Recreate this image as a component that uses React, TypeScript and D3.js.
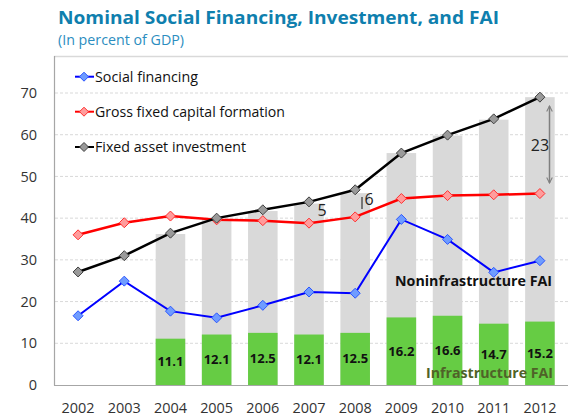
import React from "react";
import * as d3 from "d3";

const years = ["2002","2003","2004","2005","2006","2007","2008","2009","2010","2011","2012"];
const socialFinancing = [16.6, 24.9, 17.7, 16.1, 19.1, 22.3, 22.0, 39.7, 34.9, 27.0, 29.8];
const gfcf = [36.0, 38.9, 40.5, 39.6, 39.4, 38.8, 40.3, 44.7, 45.4, 45.6, 45.9];
const fai = [27.1, 31.0, 36.4, 40.0, 42.0, 43.9, 46.8, 55.6, 59.9, 63.8, 69.0];
const barYears = ["2004","2005","2006","2007","2008","2009","2010","2011","2012"];
const totalFai = [36.2, 39.8, 41.7, 43.5, 46.0, 55.6, 59.8, 63.6, 69.0];
const infraFai = [11.1, 12.1, 12.5, 12.1, 12.5, 16.2, 16.6, 14.7, 15.2];
const yTicks = [0, 10, 20, 30, 40, 50, 60, 70];

const series = [
  { name: "Social financing", values: socialFinancing, line: "#0000ff", fill: "#6f9cff", stroke: "#2a55ff", width: 2 },
  { name: "Gross fixed capital formation", values: gfcf, line: "#ff0000", fill: "#ff9c9c", stroke: "#ff3030", width: 2.5 },
  { name: "Fixed asset investment", values: fai, line: "#000000", fill: "#9a9a9a", stroke: "#404040", width: 2.5 },
];
const legendWidths = [103, 190, 151];

const FONT = "'Open Sans', 'Noto Sans', sans-serif";

function Diamond({ cx, cy, fill, stroke, r = 5 }: any) {
  const p = `M${cx},${cy - r}L${cx + r},${cy}L${cx},${cy + r}L${cx - r},${cy}Z`;
  return <path d={p} fill={fill} stroke={stroke} strokeWidth={1} />;
}

export default function App() {
  const W = 568, H = 418;
  const x = d3.scaleBand<string>().domain(years).range([55, 563]).padding(0);
  const bw = x.bandwidth();
  const barW = bw * 0.64;
  const y = d3.scaleLinear().domain([0, 70]).range([385, 93]);
  const cx = (yr: string) => (x(yr) as number) + bw / 2;
  const line = d3.line<number>().x((_, i) => cx(years[i])).y((d) => y(d));

  return (
    <svg width={W} height={H} style={{ position: "absolute", left: 0, top: 0, fontFamily: FONT }}>
      <defs>
        <marker id="arr" viewBox="0 0 10 10" refX="9" refY="5" markerWidth="7" markerHeight="7" orient="auto-start-reverse" markerUnits="userSpaceOnUse">
          <path d="M1,1L9,5L1,9" fill="none" stroke="#7f7f7f" strokeWidth={1.5} />
        </marker>
      </defs>
      <rect width={W} height={H} fill="#fff" />
      <text x={58} y={24} fontSize={18} fontWeight="bold" fill="#0f7fae" textLength={441} lengthAdjust="spacingAndGlyphs">
        Nominal Social Financing, Investment, and FAI
      </text>
      <text x={58} y={45} fontSize={14} fill="#2b8dc0" textLength={126} lengthAdjust="spacingAndGlyphs">
        (In percent of GDP)
      </text>
      <line x1={54} x2={568} y1={56.5} y2={56.5} stroke="#d9d9d9" strokeWidth={1.5} />

      {/* gridlines */}
      {yTicks.filter((t) => t > 0).map((t) => (
        <line key={t} x1={55} x2={568} y1={y(t)} y2={y(t)} stroke="#d9d9d9" strokeWidth={1} strokeDasharray="3,2" />
      ))}

      {/* bars */}
      {barYears.map((yr, i) => (
        <g key={yr}>
          <rect x={cx(yr) - barW / 2} width={barW} y={y(totalFai[i])} height={y(0) - y(totalFai[i])} fill="#d9d9d9" />
          <rect x={cx(yr) - barW / 2} width={barW} y={y(infraFai[i])} height={y(0) - y(infraFai[i])} fill="#66cc44" />
          <text x={cx(yr)} y={y(infraFai[i] / 2)} dy="0.35em" textAnchor="middle" fontSize={13} fontWeight="bold" fill="#111">
            {infraFai[i].toFixed(1)}
          </text>
        </g>
      ))}

      {/* axes */}
      <line x1={54.5} x2={54.5} y1={56} y2={385.5} stroke="#a6a6a6" strokeWidth={1.2} />
      <line x1={54} x2={568} y1={385.5} y2={385.5} stroke="#a6a6a6" strokeWidth={1.2} />
      {yTicks.map((t) => (
        <text key={t} x={37} y={y(t)} dy="0.35em" textAnchor="end" fontSize={14.5} fill="#333">{t}</text>
      ))}
      {years.map((yr) => (
        <text key={yr} x={cx(yr)} y={413} textAnchor="middle" fontSize={14.5} fill="#333" textLength={33} lengthAdjust="spacingAndGlyphs">{yr}</text>
      ))}

      {/* lines */}
      {series.map((s) => (
        <g key={s.name}>
          <path d={line(s.values) as string} fill="none" stroke={s.line} strokeWidth={s.width} />
          {s.values.map((v, i) => (
            <Diamond key={i} cx={cx(years[i])} cy={y(v)} fill={s.fill} stroke={s.stroke} />
          ))}
        </g>
      ))}

      {/* legend */}
      {series.map((s, i) => {
        const ly = [76.7, 111.7, 147][i];
        return (
          <g key={s.name}>
            <line x1={75} x2={94} y1={ly} y2={ly} stroke={s.line} strokeWidth={2} />
            <Diamond cx={84} cy={ly} fill={s.fill} stroke={s.stroke} r={4.5} />
            <text x={95} y={ly} dy="0.36em" fontSize={15} fill="#111" textLength={legendWidths[i]} lengthAdjust="spacingAndGlyphs">{s.name}</text>
          </g>
        );
      })}

      {/* annotations */}
      <text x={322} y={210} dy="0.36em" textAnchor="middle" fontSize={16} fill="#222">5</text>
      <line x1={362} x2={362} y1={197} y2={209} stroke="#111" strokeWidth={1} />
      <text x={369} y={199} dy="0.36em" textAnchor="middle" fontSize={16} fill="#222">6</text>
      <line x1={549.5} x2={549.5} y1={106} y2={183} stroke="#7f7f7f" strokeWidth={1.5} markerStart="url(#arr)" markerEnd="url(#arr)" />
      <text x={540} y={145} dy="0.36em" textAnchor="middle" fontSize={16} fill="#222">23</text>

      <text x={395} y={281} dy="0.36em" fontSize={15} fontWeight="bold" fill="#111" textLength={157} lengthAdjust="spacingAndGlyphs">Noninfrastructure FAI</text>
      <text x={426} y={373} dy="0.36em" fontSize={15} fontWeight="bold" fill="#4f6228" textLength={127} lengthAdjust="spacingAndGlyphs">Infrastructure FAI</text>
    </svg>
  );
}
